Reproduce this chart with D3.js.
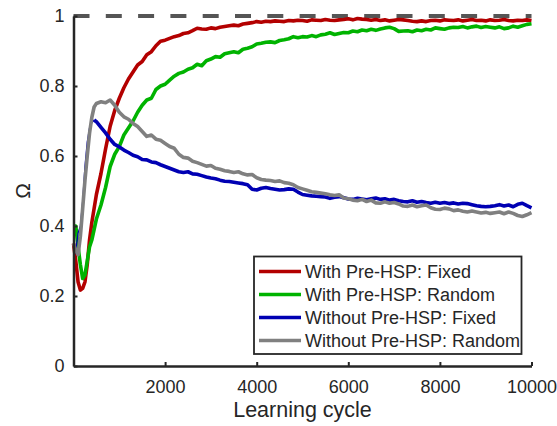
<!DOCTYPE html>
<html>
<head>
<meta charset="utf-8">
<script src="https://cdn.jsdelivr.net/npm/d3@7"></script>
<style>
  body { margin: 0; background: #fff; }
  text { font-family: "Liberation Sans", Arial, sans-serif; fill: #262626; }
</style>
</head>
<body>
<div id="chart"></div>
<script>
// learning cycles (x) shared by all four series
const cycles = [0, 50, 100, 150, 200, 250, 300, 350, 400, 450, 500,
  600, 700, 800, 900, 1000, 1100, 1200, 1300, 1400, 1500, 1600, 1700, 1800, 1900, 2000,
  2100, 2200, 2300, 2400, 2500, 2600, 2700, 2800, 2900, 3000, 3100, 3200, 3300, 3400, 3500,
  3600, 3700, 3800, 3900, 4000, 4100, 4200, 4300, 4400, 4500, 4600, 4700, 4800, 4900, 5000,
  5100, 5200, 5300, 5400, 5500, 5600, 5700, 5800, 5900, 6000, 6100, 6200, 6300, 6400, 6500,
  6600, 6700, 6800, 6900, 7000, 7100, 7200, 7300, 7400, 7500, 7600, 7700, 7800, 7900, 8000,
  8100, 8200, 8300, 8400, 8500, 8600, 8700, 8800, 8900, 9000, 9100, 9200, 9300, 9400, 9500,
  9600, 9700, 9800, 9900, 10000];

const withFixed = [0.35, 0.30, 0.24, 0.217, 0.222, 0.24, 0.29, 0.36, 0.41, 0.45, 0.49,
  0.55, 0.62, 0.685, 0.73, 0.765, 0.795, 0.82, 0.84, 0.86, 0.87, 0.889, 0.898, 0.915, 0.928, 0.931,
  0.936, 0.941, 0.944, 0.95, 0.952, 0.958, 0.965, 0.963, 0.962, 0.966, 0.964, 0.968, 0.97, 0.972, 0.974,
  0.972, 0.977, 0.979, 0.981, 0.984, 0.982, 0.985, 0.984, 0.986, 0.985, 0.984, 0.987, 0.986, 0.988, 0.987,
  0.985, 0.989, 0.988, 0.987, 0.99, 0.988, 0.987, 0.989, 0.99, 0.992, 0.989, 0.993, 0.991, 0.99, 0.988,
  0.99, 0.987, 0.989, 0.986, 0.988, 0.99, 0.989, 0.987, 0.985, 0.984, 0.986, 0.984, 0.987, 0.988, 0.986,
  0.989, 0.988, 0.987, 0.989, 0.986, 0.988, 0.99, 0.987, 0.988, 0.986, 0.989, 0.987, 0.988, 0.99, 0.987,
  0.986, 0.988, 0.987, 0.989, 0.987];

const withRandom = [0.40, 0.40, 0.34, 0.29, 0.25, 0.26, 0.30, 0.34, 0.36, 0.39, 0.42,
  0.46, 0.51, 0.57, 0.605, 0.627, 0.66, 0.68, 0.70, 0.725, 0.745, 0.76, 0.765, 0.79, 0.80, 0.805,
  0.817, 0.828, 0.836, 0.84, 0.848, 0.852, 0.862, 0.858, 0.872, 0.877, 0.884, 0.882, 0.892, 0.895, 0.898,
  0.895, 0.905, 0.908, 0.912, 0.92, 0.922, 0.925, 0.926, 0.924, 0.93, 0.932, 0.935, 0.941, 0.938, 0.941,
  0.94, 0.944, 0.941, 0.946, 0.948, 0.952, 0.947, 0.95, 0.953, 0.952, 0.957, 0.955, 0.96, 0.958, 0.962,
  0.959, 0.963, 0.966, 0.968, 0.964, 0.956, 0.957, 0.958, 0.955, 0.96, 0.958, 0.962, 0.96, 0.966, 0.964,
  0.962, 0.966, 0.968, 0.967, 0.97, 0.966, 0.969, 0.971, 0.967, 0.97, 0.968, 0.966, 0.969, 0.964, 0.966,
  0.971, 0.968, 0.972, 0.976, 0.978];

const withoutFixed = [0.31, 0.33, 0.38, 0.40, 0.47, 0.57, 0.64, 0.68, 0.695, 0.703, 0.698,
  0.682, 0.666, 0.648, 0.633, 0.626, 0.617, 0.61, 0.602, 0.598, 0.59, 0.589, 0.583, 0.581, 0.575, 0.57,
  0.565, 0.56, 0.555, 0.553, 0.555, 0.549, 0.548, 0.544, 0.54, 0.537, 0.535, 0.531, 0.528, 0.527, 0.525,
  0.523, 0.521, 0.518, 0.505, 0.503, 0.508, 0.51, 0.507, 0.505, 0.503, 0.504, 0.506, 0.505, 0.497, 0.49,
  0.488, 0.486, 0.485, 0.484, 0.483, 0.479, 0.482, 0.484, 0.481, 0.477, 0.476, 0.479, 0.477, 0.475, 0.478,
  0.48, 0.476, 0.478, 0.474, 0.476, 0.472, 0.47, 0.469, 0.472, 0.468, 0.47, 0.467, 0.465, 0.468, 0.465,
  0.467, 0.464, 0.466, 0.463, 0.465, 0.464, 0.461, 0.458, 0.456, 0.455, 0.456, 0.458, 0.461, 0.457, 0.46,
  0.455, 0.462, 0.465, 0.458, 0.452];

const withoutRandom = [0.35, 0.33, 0.318, 0.37, 0.45, 0.53, 0.60, 0.665, 0.71, 0.74, 0.75,
  0.755, 0.752, 0.76, 0.745, 0.725, 0.712, 0.705, 0.693, 0.684, 0.67, 0.656, 0.66, 0.648, 0.645, 0.636,
  0.627, 0.622, 0.605, 0.596, 0.594, 0.585, 0.581, 0.576, 0.571, 0.573, 0.565, 0.562, 0.558, 0.556, 0.553,
  0.555, 0.549, 0.546, 0.547, 0.538, 0.533, 0.531, 0.53, 0.527, 0.529, 0.524, 0.522, 0.518, 0.51, 0.506,
  0.502, 0.498, 0.496, 0.494, 0.492, 0.489, 0.487, 0.489, 0.48, 0.478, 0.474, 0.472, 0.476, 0.47, 0.474,
  0.466, 0.465, 0.469, 0.465, 0.467, 0.463, 0.457, 0.456, 0.46, 0.455, 0.458, 0.46, 0.452, 0.448, 0.447,
  0.451, 0.449, 0.444, 0.446, 0.442, 0.44, 0.443, 0.44, 0.437, 0.439, 0.436, 0.438, 0.44, 0.435, 0.44,
  0.436, 0.43, 0.427, 0.432, 0.438];

const seriesNames = ["With Pre-HSP: Fixed", "With Pre-HSP: Random", "Without Pre-HSP: Fixed", "Without Pre-HSP: Random"];
const seriesColors = ["#b30000", "#00b300", "#0000b3", "#808080"];
const seriesValues = [withFixed, withRandom, withoutFixed, withoutRandom];

const xTicks = [2000, 4000, 6000, 8000, 10000];
const yTicks = [0, 0.2, 0.4, 0.6, 0.8, 1];

const W = 557, H = 426;
const margin = { top: 16, right: 25.5, bottom: 60, left: 73.5 };
const width = W - margin.left - margin.right;
const height = H - margin.top - margin.bottom;

const svg = d3.select("#chart").append("svg")
  .attr("width", W)
  .attr("height", H);

const g = svg.append("g")
  .attr("transform", `translate(${margin.left}, ${margin.top})`);

const x = d3.scaleLinear().domain([0, 10000]).range([0, width]);
const y = d3.scaleLinear().domain([0, 1]).range([height, 0]);

// reference line at 1
g.append("line")
  .attr("x1", x(0)).attr("x2", x(10000))
  .attr("y1", y(1)).attr("y2", y(1))
  .attr("stroke", "#555")
  .attr("stroke-width", 4)
  .attr("stroke-dasharray", "16 16.3");

const line = d3.line()
  .x(d => x(d[0]))
  .y(d => y(d[1]));

seriesValues.forEach((vals, k) => {
  const pts = cycles.map((c, i) => [c, vals[i]]);
  if (k === 2) {
    // blue rise is drawn thin in the reference
    const cut = cycles.indexOf(450);
    g.append("path")
      .attr("d", line(pts.slice(0, cut + 1)))
      .attr("fill", "none")
      .attr("stroke", seriesColors[k])
      .attr("stroke-width", 1.3);
    g.append("path")
      .attr("d", line(pts.slice(cut)))
      .attr("fill", "none")
      .attr("stroke", seriesColors[k])
      .attr("stroke-width", 3.6)
      .attr("stroke-linejoin", "round");
  } else {
    g.append("path")
      .attr("d", line(pts))
      .attr("fill", "none")
      .attr("stroke", seriesColors[k])
      .attr("stroke-width", 3.6)
      .attr("stroke-linejoin", "round");
  }
});

// axes (MATLAB style: ticks inside)
const xAxis = g.append("g")
  .attr("transform", `translate(0, ${height})`)
  .call(d3.axisBottom(x).tickValues(xTicks).tickFormat(d3.format("d")).tickSizeInner(-4).tickSizeOuter(0).tickPadding(14));
const yAxis = g.append("g")
  .call(d3.axisLeft(y).tickValues(yTicks).tickFormat(d3.format("")).tickSizeInner(-4).tickSizeOuter(0).tickPadding(9));

[xAxis, yAxis].forEach(a => {
  a.select(".domain").attr("stroke", "#262626").attr("stroke-width", 2.5);
  a.selectAll(".tick line").attr("stroke", "#262626").attr("stroke-width", 2);
  a.selectAll(".tick text")
    .style("font-family", '"Liberation Sans", Arial, sans-serif')
    .style("font-size", "18px")
    .attr("fill", "#262626");
});

// axis labels
svg.append("text")
  .attr("x", margin.left + width / 2)
  .attr("y", 416.5)
  .attr("text-anchor", "middle")
  .style("font-size", "21.5px")
  .text("Learning cycle");

svg.append("text")
  .attr("transform", `translate(30, ${margin.top + height / 2}) rotate(-90)`)
  .attr("text-anchor", "middle")
  .style("font-size", "21px")
  .text("Ω");

// legend
const legend = svg.append("g");
legend.append("rect")
  .attr("x", 254).attr("y", 256.5)
  .attr("width", 267.5).attr("height", 97.5)
  .attr("fill", "#fff")
  .attr("stroke", "#262626")
  .attr("stroke-width", 1.8);

seriesNames.forEach((name, i) => {
  const cy = 271.5 + i * 23;
  legend.append("line")
    .attr("x1", 259).attr("x2", 301)
    .attr("y1", cy).attr("y2", cy)
    .attr("stroke", seriesColors[i])
    .attr("stroke-width", 3.6);
  legend.append("text")
    .attr("x", 305)
    .attr("y", cy)
    .attr("dy", "0.35em")
    .style("font-size", "18px")
    .attr("fill", "#000")
    .text(name);
});
</script>
</body>
</html>
